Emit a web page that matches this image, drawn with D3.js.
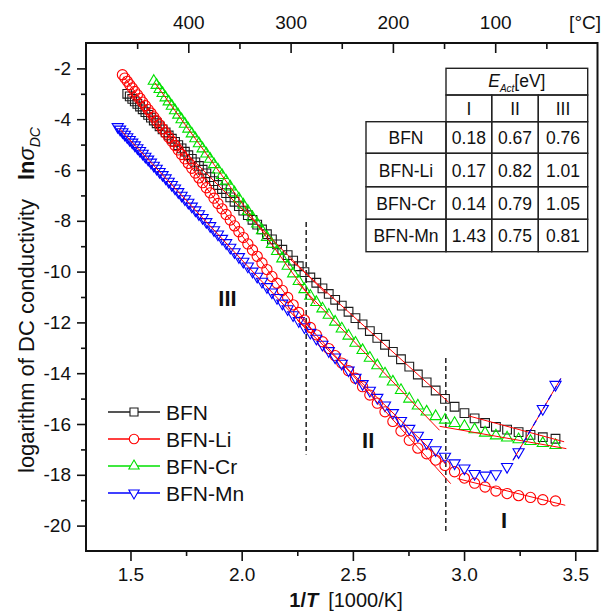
<!DOCTYPE html>
<html>
<head>
<meta charset="utf-8">
<script src="https://d3js.org/d3.v7.min.js"></script>
<style>
body { margin: 0; background: #fff; }
svg text { font-family: "Liberation Sans", Arial, sans-serif; fill: #111; }
</style>
</head>
<body>
<svg width="615" height="611"></svg>
<script>
// measurement grid: 1/T [1000/K], 5 degC steps from 420 degC down to 20 degC
var invT = [1.4427,1.4532,1.4638,1.4746,1.4856,1.4967,1.5080,1.5194,1.5310,1.5429,
  1.5549,1.5670,1.5794,1.5920,1.6048,1.6177,1.6309,1.6443,1.6580,1.6718,
  1.6859,1.7003,1.7148,1.7297,1.7447,1.7601,1.7757,1.7916,1.8078,1.8243,
  1.8411,1.8582,1.8756,1.8934,1.9115,1.9300,1.9487,1.9679,1.9875,2.0074,
  2.0278,2.0486,2.0698,2.0914,2.1135,2.1361,2.1591,2.1827,2.2068,2.2314,
  2.2566,2.2823,2.3087,2.3356,2.3632,2.3915,2.4204,2.4501,2.4805,2.5116,
  2.5436,2.5763,2.6099,2.6445,2.6799,2.7163,2.7537,2.7921,2.8317,2.8723,
  2.9142,2.9573,3.0017,3.0474,3.0945,3.1432,3.1934,3.2452,3.2987,3.3540,
  3.4112];

// ln(sigma_DC) (null = no point)
var lnBFN = [null,null,null,null,-3.00,-3.10,-3.20,-3.30,-3.40,-3.50,
  -3.61,-3.72,-3.83,-3.94,-4.05,-4.16,-4.28,-4.40,-4.52,-4.64,
  -4.77,-4.89,-5.02,-5.15,-5.28,-5.42,-5.56,-5.70,-5.84,-5.99,
  -6.13,-6.28,-6.44,-6.59,-6.75,-6.91,-7.08,-7.25,-7.42,-7.60,
  -7.78,-7.96,-8.15,-8.34,-8.53,-8.73,-8.93,-9.14,-9.35,-9.57,
  -9.79,-10.02,-10.23,-10.44,-10.66,-10.88,-11.11,-11.34,-11.58,-11.83,
  -12.08,-12.34,-12.61,-12.88,-13.16,-13.45,-13.74,-14.05,-14.36,-14.68,
  -15.01,-15.32,-15.57,-15.78,-15.96,-16.11,-16.22,-16.32,-16.43,-16.52,
  -16.58];
var lnLi = [null,null,-2.25,-2.38,-2.51,-2.64,-2.77,-2.91,-3.04,-3.18,
  -3.33,-3.47,-3.62,-3.76,-3.91,-4.07,-4.22,-4.38,-4.54,-4.71,
  -4.87,-5.04,-5.21,-5.39,-5.56,-5.74,-5.93,-6.12,-6.31,-6.50,
  -6.70,-6.90,-7.11,-7.32,-7.53,-7.75,-7.97,-8.20,-8.43,-8.66,
  -8.91,-9.15,-9.40,-9.66,-9.92,-10.19,-10.46,-10.74,-11.02,-11.31,
  -11.61,-11.91,-12.20,-12.49,-12.76,-13.03,-13.31,-13.60,-13.90,-14.20,
  -14.53,-14.86,-15.18,-15.52,-15.90,-16.28,-16.64,-16.95,-17.17,-17.42,
  -17.63,-17.88,-18.13,-18.33,-18.48,-18.64,-18.74,-18.82,-18.89,-18.98,
  -19.03];
var lnCr = [null,null,null,null,null,null,null,null,null,null,
  null,null,null,null,-2.50,-2.66,-2.82,-2.98,-3.15,-3.31,
  -3.48,-3.66,-3.83,-4.01,-4.19,-4.38,-4.57,-4.76,-4.96,-5.16,
  -5.36,-5.57,-5.78,-5.99,-6.21,-6.43,-6.66,-6.89,-7.13,-7.37,
  -7.62,-7.87,-8.12,-8.38,-8.65,-8.92,-9.20,-9.49,-9.78,-10.08,
  -10.38,-10.70,-10.96,-11.21,-11.46,-11.71,-11.98,-12.25,-12.53,-12.81,
  -13.10,-13.40,-13.70,-14.02,-14.34,-14.67,-15.01,-15.28,-15.52,-15.70,
  -15.84,-15.97,-16.09,-16.22,-16.35,-16.46,-16.54,-16.61,-16.68,-16.76,
  -16.84];
var lnMn = [-4.30,-4.40,-4.50,-4.60,-4.70,-4.81,-4.91,-5.02,-5.13,-5.24,
  -5.35,-5.47,-5.58,-5.70,-5.82,-5.94,-6.07,-6.19,-6.32,-6.45,
  -6.58,-6.72,-6.86,-7.00,-7.14,-7.28,-7.43,-7.58,-7.73,-7.88,
  -8.04,-8.20,-8.36,-8.53,-8.70,-8.87,-9.05,-9.23,-9.42,-9.60,
  -9.79,-9.99,-10.19,-10.39,-10.60,-10.81,-11.03,-11.25,-11.47,-11.71,
  -11.94,-12.18,-12.40,-12.63,-12.87,-13.12,-13.37,-13.62,-13.88,-14.17,
  -14.42,-14.68,-14.96,-15.26,-15.56,-15.87,-16.18,-16.45,-16.74,-17.02,
  -17.28,-17.54,-17.74,-17.96,-18.02,-17.97,-17.68,-17.10,null,-15.40,
  -14.45];

var seriesNames = ["BFN", "BFN-Li", "BFN-Cr", "BFN-Mn"];
var seriesValues = [lnBFN, lnLi, lnCr, lnMn];
var seriesColors = ["#1c1c1c", "#ff0000", "#00e000", "#0000ff"];

// linear fits per region: [series, x1, y1, x2, y2]
var fitLines = [
  [0, 1.49, -3.04, 2.38, -10.87], [0, 2.22, -9.53, 2.93, -15.14], [0, 3.02, -15.68, 3.45, -16.70],
  [1, 1.47, -2.33, 2.33, -12.45], [1, 2.26, -11.76, 2.94, -18.35], [1, 2.97, -18.15, 3.455, -19.20],
  [2, 1.61, -2.57, 2.33, -11.28], [2, 2.25, -10.43, 2.89, -16.25], [2, 2.89, -16.09, 3.46, -16.97],
  [3, 1.45, -4.37, 2.30, -12.35], [3, 2.25, -11.91, 2.92, -17.60], [3, 3.22, -17.43, 3.435, -14.21]
];

// region borders (dashed) and region names
var borderX = [2.29, 2.918];
var borderTop = [-8.05, -13.4];
var borderBottom = [-17.2, -20.3];
var regionNames = ["III", "II", "I"];
var regionX = [1.936, 2.569, 3.18];
var regionY = [-11.05, -16.65, -19.8];

// activation energy table
var tableCols = ["I", "II", "III"];
var eAct = [["0.18", "0.67", "0.76"], ["0.17", "0.82", "1.01"], ["0.14", "0.79", "1.05"], ["1.43", "0.75", "0.81"]];

var xTicks = [1.5, 2.0, 2.5, 3.0, 3.5];
var xMinor = [1.75, 2.25, 2.75, 3.25];
var yTicks = [-2, -4, -6, -8, -10, -12, -14, -16, -18, -20];
var yMinor = [-3, -5, -7, -9, -11, -13, -15, -17, -19];
var cTicks = [100, 200, 300, 400];
var cMinor = [50, 150, 250, 350, 450];

var svg = d3.select("svg");
var plotL = 86, plotR = 597.5, plotT = 43, plotB = 551;

var x = d3.scaleLinear().domain([1.3, 3.6]).range([plotL, plotR]);
var y = d3.scaleLinear().domain([-1, -21]).range([plotT, plotB]);
var tC = d3.scaleLinear().domain([500, 0]).range([plotL, plotR]);

var font = "'Liberation Sans', Arial, sans-serif";

function styleAxis(g) {
  g.select(".domain").remove();
  g.attr("font-family", font).attr("font-size", 19);
  g.selectAll(".tick line").attr("stroke", "#111").attr("stroke-width", 1.6);
  g.selectAll(".tick text").attr("fill", "#111");
}

// bottom axis
svg.append("g").attr("transform", "translate(0," + plotB + ")")
  .call(d3.axisBottom(x).tickValues(xTicks).tickSize(10).tickPadding(7).tickFormat(d3.format(".1f")))
  .call(styleAxis);
svg.append("g").attr("transform", "translate(0," + plotB + ")")
  .call(d3.axisBottom(x).tickValues(xMinor).tickSize(5).tickFormat(""))
  .call(styleAxis);

// left axis
svg.append("g").attr("transform", "translate(" + plotL + ",0)")
  .call(d3.axisLeft(y).tickValues(yTicks).tickSize(9).tickPadding(6).tickFormat(function(d) { return String(d); }))
  .call(styleAxis);
svg.append("g").attr("transform", "translate(" + plotL + ",0)")
  .call(d3.axisLeft(y).tickValues(yMinor).tickSize(5).tickFormat(""))
  .call(styleAxis);

// top axis in degC, ticks inward
svg.append("g").attr("transform", "translate(0," + plotT + ")")
  .call(d3.axisTop(tC).tickValues(cTicks).tickSize(-10).tickPadding(14).tickFormat(d3.format("d")))
  .call(styleAxis);
svg.append("g").attr("transform", "translate(0," + plotT + ")")
  .call(d3.axisTop(tC).tickValues(cMinor).tickSize(-6).tickFormat(""))
  .call(styleAxis);
svg.append("text").attr("x", 601).attr("y", 29).attr("text-anchor", "end")
  .attr("font-size", 19).text("[°C]");

// frame
svg.append("rect").attr("x", plotL).attr("y", plotT)
  .attr("width", plotR - plotL).attr("height", plotB - plotT)
  .attr("fill", "none").attr("stroke", "#111").attr("stroke-width", 2);

// dashed region borders
svg.append("g").selectAll("line").data(borderX).join("line")
  .attr("x1", function(d) { return x(d); }).attr("x2", function(d) { return x(d); })
  .attr("y1", function(d, i) { return y(borderTop[i]); })
  .attr("y2", function(d, i) { return y(borderBottom[i]); })
  .attr("stroke", "#111").attr("stroke-width", 1.4).attr("stroke-dasharray", "5,3");

// region labels
svg.append("g").selectAll("text").data(regionNames).join("text")
  .attr("x", function(d, i) { return x(regionX[i]); })
  .attr("y", function(d, i) { return y(regionY[i]); })
  .attr("dy", "0.36em").attr("text-anchor", "middle")
  .attr("font-size", 22).attr("font-weight", "bold").text(function(d) { return d; });

// markers
var symbols = [d3.symbolSquare, d3.symbolCircle, d3.symbolTriangle, d3.symbolTriangle];
var symSizes = [76, 82, 54, 54];
var symRot = [0, 0, 0, 180];

function markerPath(i, scale) {
  return d3.symbol().type(symbols[i]).size(symSizes[i] * (scale || 1))();
}

seriesValues.forEach(function(vals, si) {
  var pts = invT.map(function(t, k) { return [t, vals[k]]; })
    .filter(function(p) { return p[1] !== null; });
  svg.append("g").selectAll("path").data(pts).join("path")
    .attr("d", markerPath(si))
    .attr("transform", function(p) {
      return "translate(" + x(p[0]) + "," + y(p[1]) + ") rotate(" + symRot[si] + ")";
    })
    .attr("fill", "none").attr("stroke", seriesColors[si]).attr("stroke-width", 1.1);
});

// fit lines
svg.append("g").selectAll("line").data(fitLines).join("line")
  .attr("x1", function(d) { return x(d[1]); }).attr("y1", function(d) { return y(d[2]); })
  .attr("x2", function(d) { return x(d[3]); }).attr("y2", function(d) { return y(d[4]); })
  .attr("stroke", "#ff0000").attr("stroke-width", 1);
// BFN-Mn region I fit is drawn red/blue dashed
svg.append("g").selectAll("line").data(fitLines.filter(function(d) { return d[0] === 3 && d[1] > 3; })).join("line")
  .attr("x1", function(d) { return x(d[1]); }).attr("y1", function(d) { return y(d[2]); })
  .attr("x2", function(d) { return x(d[3]); }).attr("y2", function(d) { return y(d[4]); })
  .attr("stroke", "#0000ff").attr("stroke-width", 1.2).attr("stroke-dasharray", "6,4");

// legend
var lg = svg.append("g");
seriesNames.forEach(function(name, i) {
  var ly = 412 + i * 27;
  lg.append("line").attr("x1", 108).attr("x2", 160).attr("y1", ly).attr("y2", ly)
    .attr("stroke", seriesColors[i]).attr("stroke-width", 1.6);
  lg.append("path").attr("d", markerPath(i, 0.85))
    .attr("transform", "translate(134," + ly + ") rotate(" + symRot[i] + ")")
    .attr("fill", "#fff").attr("stroke", seriesColors[i]).attr("stroke-width", 1.1);
  lg.append("text").attr("x", 166).attr("y", ly + 7.5).attr("font-size", 21).text(name);
});

// axis titles
var xt = svg.append("text").attr("x", 346).attr("y", 607).attr("text-anchor", "middle").attr("font-size", 20);
xt.append("tspan").attr("font-weight", "bold").text("1/");
xt.append("tspan").attr("font-weight", "bold").attr("font-style", "italic").text("T");
xt.append("tspan").attr("dx", 10).text("[1000/K]");

var yt = svg.append("text").attr("transform", "translate(34,473) rotate(-90)").attr("font-size", 22);
yt.append("tspan").text("logarithm of DC conductivity");
yt.append("tspan").attr("dx", 19).attr("font-weight", "bold").text("ln");
yt.append("tspan").attr("font-style", "italic").text("σ");
yt.append("tspan").attr("font-style", "italic").attr("font-size", 14).attr("dy", 6).text("DC");

// table
var colX = [366, 446, 491.7, 538.3, 587.7];
var rowY = [68.3, 95, 121.7, 153.3, 186.7, 219.3, 251.7];
var tb = svg.append("g").attr("font-size", 17.5);
function cell(x0, x1, y0, y1, txt) {
  tb.append("rect").attr("x", x0).attr("y", y0).attr("width", x1 - x0).attr("height", y1 - y0)
    .attr("fill", "none").attr("stroke", "#222").attr("stroke-width", 1.4);
  if (txt !== undefined) {
    tb.append("text").attr("x", (x0 + x1) / 2).attr("y", (y0 + y1) / 2 + 6.5)
      .attr("text-anchor", "middle").text(txt);
  }
}
cell(colX[1], colX[4], rowY[0], rowY[1]);
var hd = tb.append("text").attr("x", (colX[1] + colX[4]) / 2).attr("y", rowY[1] - 8).attr("text-anchor", "middle");
hd.append("tspan").attr("font-style", "italic").text("E");
hd.append("tspan").attr("font-style", "italic").attr("font-size", 10).attr("dy", 5).text("Act");
hd.append("tspan").attr("dy", -5).text("[eV]");
tableCols.forEach(function(c, j) { cell(colX[j + 1], colX[j + 2], rowY[1], rowY[2], c); });
seriesNames.forEach(function(name, i) {
  cell(colX[0], colX[1], rowY[i + 2], rowY[i + 3], name);
  eAct[i].forEach(function(v, j) { cell(colX[j + 1], colX[j + 2], rowY[i + 2], rowY[i + 3], v); });
});
</script>
</body>
</html>
